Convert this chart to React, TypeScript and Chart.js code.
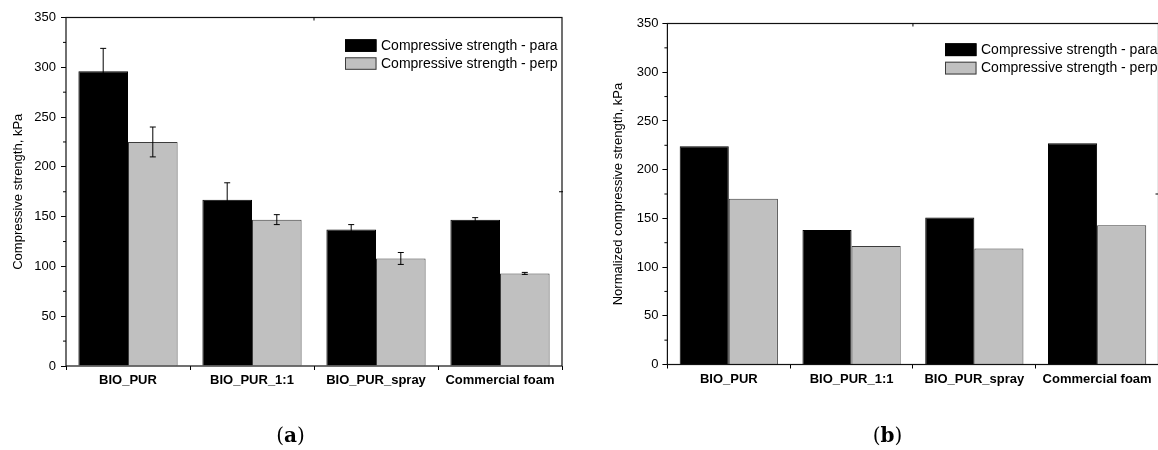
import React, { useEffect, useRef } from "react";
import { Chart, registerables } from "chart.js";

Chart.register(...registerables);

// ---------- data ----------
const categories = ["BIO_PUR", "BIO_PUR_1:1", "BIO_PUR_spray", "Commercial foam"];
const seriesLabels = ["Compressive strength - para", "Compressive strength - perp"];

// (a) compressive strength, kPa
const paraA = [296, 167, 137, 147];
const paraAErr = [23, 17, 5, 2];
const perpA = [225, 147, 108, 93];
const perpAErr = [15, 5, 6, 1];

// (b) normalized compressive strength, kPa
const paraB = [224, 138, 151, 227];
const perpB = [170, 121.5, 119, 143];

const yMin = 0;
const yMax = 350;
const yStep = 50;
const yMinorTicks = [25, 75, 125, 175, 225, 275, 325];

const titleA = "Compressive strength, kPa";
const titleB = "Normalized compressive strength, kPa";
const captionA = "a";
const captionB = "b";

const SANS = '"Liberation Sans", Arial, Helvetica, sans-serif';

// ---------- plugins ----------
const framePlugin = {
  id: "frameAxes",
  afterDraw(chart: any) {
    const { ctx, chartArea } = chart;
    const { left, right, top, bottom } = chartArea;
    const y = chart.scales.y;
    ctx.save();
    ctx.strokeStyle = "#111";
    ctx.lineWidth = 1.2;
    ctx.strokeRect(left, top, right - left, bottom - top);
    ctx.lineWidth = 1;
    ctx.strokeStyle = "#000";
    ctx.beginPath();
    // minor ticks on left axis (outward)
    for (const v of yMinorTicks) {
      const py = y.getPixelForValue(v);
      ctx.moveTo(left - 3, py);
      ctx.lineTo(left, py);
    }
    // single mid ticks on mirrored top / right axes (inward)
    const mx = (left + right) / 2;
    ctx.moveTo(mx, top);
    ctx.lineTo(mx, top + 3);
    const my = y.getPixelForValue((yMin + yMax) / 2);
    ctx.moveTo(right - 3, my);
    ctx.lineTo(right + 1, my);
    ctx.stroke();
    ctx.restore();
  },
};

const errorBarPlugin = {
  id: "errorBars",
  afterDatasetsDraw(chart: any) {
    const { ctx } = chart;
    const y = chart.scales.y;
    ctx.save();
    ctx.strokeStyle = "#000";
    ctx.lineWidth = 1;
    chart.data.datasets.forEach((ds: any, i: number) => {
      if (!ds.errors) return;
      const meta = chart.getDatasetMeta(i);
      meta.data.forEach((el: any, j: number) => {
        const v = ds.data[j];
        const e = ds.errors[j];
        const yHi = y.getPixelForValue(v + e);
        const yLo = y.getPixelForValue(v - e);
        const x = el.x;
        ctx.beginPath();
        ctx.moveTo(x, yHi);
        ctx.lineTo(x, yLo);
        ctx.moveTo(x - 3, yHi);
        ctx.lineTo(x + 3, yHi);
        ctx.moveTo(x - 3, yLo);
        ctx.lineTo(x + 3, yLo);
        ctx.stroke();
      });
    });
    ctx.restore();
  },
};

const boxLegendPlugin = {
  id: "boxLegend",
  afterDraw(chart: any, _args: any, opts: any) {
    const { ctx, chartArea } = chart;
    const x0 = chartArea.right + opts.dx;
    const y0 = chartArea.top + opts.dy;
    ctx.save();
    ctx.font = `${opts.fontSize}px ${SANS}`;
    ctx.textBaseline = "middle";
    ctx.textAlign = "left";
    chart.data.datasets.forEach((ds: any, i: number) => {
      const by = y0 + i * opts.rowGap;
      ctx.fillStyle = ds.backgroundColor;
      ctx.fillRect(x0, by, opts.boxW, opts.boxH);
      ctx.strokeStyle = ds.borderColor;
      ctx.lineWidth = 1;
      ctx.strokeRect(x0 + 0.5, by + 0.5, opts.boxW - 1, opts.boxH - 1);
      ctx.fillStyle = "#000";
      ctx.fillText(ds.label, x0 + opts.boxW + 4.5, by + opts.boxH / 2 + 0.5);
    });
    ctx.restore();
  },
};

// ---------- config builder ----------
function makeConfig(
  para: number[],
  perp: number[],
  paraErr: number[] | null,
  perpErr: number[] | null,
  title: string,
  layout: any
) {
  return {
    type: "bar",
    data: {
      labels: categories,
      datasets: [
        {
          label: seriesLabels[0],
          data: para,
          errors: paraErr,
          backgroundColor: "#000000",
          borderColor: "#000000",
          borderWidth: 1,
          categoryPercentage: 0.8,
          barPercentage: 1,
        },
        {
          label: seriesLabels[1],
          data: perp,
          errors: perpErr,
          backgroundColor: "#c0c0c0",
          borderColor: "#3c3c3c",
          borderWidth: 1,
          categoryPercentage: 0.8,
          barPercentage: 1,
        },
      ],
    },
    options: {
      responsive: false,
      animation: false,
      devicePixelRatio: 1,
      layout: { padding: layout.padding },
      plugins: {
        legend: { display: false },
        tooltip: { enabled: false },
        boxLegend: layout.legend,
      },
      scales: {
        x: {
          ticks: {
            color: "#000",
            font: { family: SANS, size: 13, weight: "bold" },
            padding: 3,
            maxRotation: 0,
            autoSkip: false,
          },
          grid: { offset: true, drawOnChartArea: false, drawTicks: true, tickLength: 4, color: "#000" },
          border: { display: false },
          afterFit: (s: any) => {
            s.height = layout.xHeight;
          },
        },
        y: {
          min: yMin,
          max: yMax,
          ticks: {
            stepSize: yStep,
            color: "#000",
            font: { family: SANS, size: 13 },
            padding: layout.yTickPad,
          },
          grid: { drawOnChartArea: false, drawTicks: true, tickLength: 5, color: "#000" },
          border: { display: false },
          title: {
            display: true,
            text: title,
            color: "#000",
            font: { family: SANS, size: 13 },
            padding: { top: layout.titlePad, bottom: 0 },
          },
          afterFit: (s: any) => {
            s.width = layout.yWidth;
          },
        },
      },
    },
    plugins: [framePlugin, errorBarPlugin, boxLegendPlugin],
  };
}

function BarChart({ config, left, width }: { config: any; left: number; width: number }) {
  const ref = useRef<HTMLCanvasElement>(null);
  useEffect(() => {
    const chart = new Chart(ref.current as HTMLCanvasElement, config);
    return () => chart.destroy();
  }, []);
  return (
    <canvas
      ref={ref}
      width={width}
      height={450}
      style={{ position: "absolute", left, top: 0, width, height: 450 }}
    />
  );
}

function Caption({ letter, cx }: { letter: string; cx: number }) {
  return (
    <div
      style={{
        position: "absolute",
        left: cx - 60,
        width: 120,
        top: 425,
        textAlign: "center",
        fontFamily: '"DejaVu Serif", "Liberation Serif", serif',
        fontSize: 20,
        lineHeight: "20px",
        color: "#000",
      }}
    >
      (<b>{letter}</b>)
    </div>
  );
}

export default function App() {
  const cfgA = makeConfig(paraA, perpA, paraAErr, perpAErr, titleA, {
    padding: { top: 17.5, left: 0, right: 17, bottom: 0 },
    xHeight: 84,
    yWidth: 66,
    yTickPad: 5,
    titlePad: 10.2,
    legend: { dx: -217, dy: 21.8, boxW: 31.5, boxH: 12.5, rowGap: 18, fontSize: 14 },
  });
  const cfgB = makeConfig(paraB, perpB, null, null, titleB, {
    padding: { top: 23.5, left: 0, right: 20.5, bottom: 0 },
    xHeight: 85.5,
    yWidth: 88.4,
    yTickPad: 4,
    titlePad: 31.5,
    legend: { dx: -213.5, dy: 19.8, boxW: 31.5, boxH: 12.8, rowGap: 18.4, fontSize: 14 },
  });
  return (
    <div
      style={{
        position: "fixed",
        left: 0,
        top: 0,
        width: 1158,
        height: 450,
        overflow: "hidden",
        background: "#fff",
      }}
    >
      <BarChart config={cfgA} left={0} width={579} />
      <BarChart config={cfgB} left={579} width={600} />
      <Caption letter={captionA} cx={290.5} />
      <Caption letter={captionB} cx={887.5} />
    </div>
  );
}
